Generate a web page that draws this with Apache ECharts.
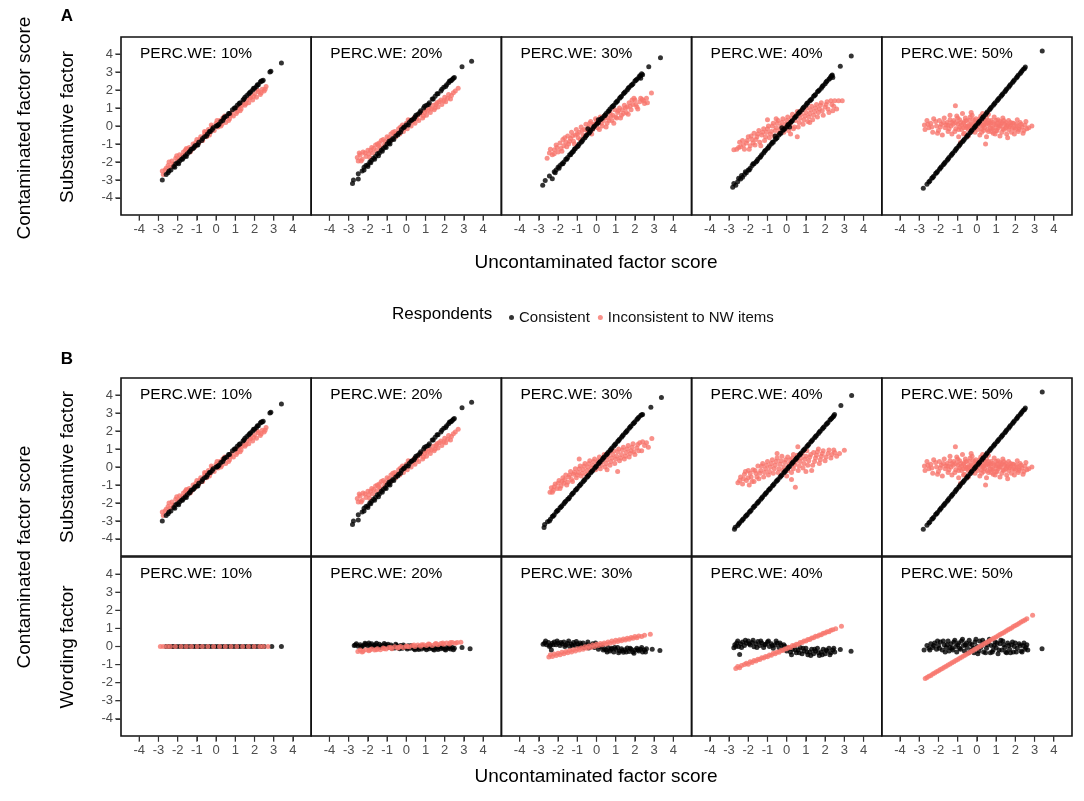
<!DOCTYPE html>
<html>
<head>
<meta charset="utf-8">
<title>Contaminated vs uncontaminated factor scores</title>
<script src="https://cdn.jsdelivr.net/npm/echarts@6/dist/echarts.min.js"></script>
<style>
  html, body { margin: 0; padding: 0; background: #fff; }
  #chart { width: 1084px; height: 801px; }
</style>
</head>
<body>
<div id="chart"></div>
<script>
// tick labels shared by every panel
const ticks = [-4, -3, -2, -1, 0, 1, 2, 3, 4]
const percLabels = ['PERC.WE: 10%', 'PERC.WE: 20%', 'PERC.WE: 30%', 'PERC.WE: 40%', 'PERC.WE: 50%']

// A / B top row: substantive factor
const a10Con = [[-2.8,-3.0],[-2.6,-2.7],[-2.5,-2.6],[-2.35,-2.45],[-2.2,-2.25],[-2.1,-2.1],[-2.0,-2.05],[-1.9,-1.95],[-1.8,-1.85],[-1.7,-1.75],[-1.6,-1.65],[-1.5,-1.55],[-1.4,-1.45],[-1.3,-1.3],[-1.2,-1.25],[-1.1,-1.1],[-1.0,-1.05],[-0.9,-0.9],[-0.75,-0.8],[-0.6,-0.6],[-0.45,-0.45],[-0.3,-0.3],[-0.15,-0.1],[0,0],[0.1,0.05],[0.25,0.25],[0.4,0.45],[0.55,0.55],[0.7,0.7],[0.85,0.9],[1.0,1.0],[1.1,1.15],[1.25,1.3],[1.4,1.45],[1.5,1.6],[1.6,1.7],[1.7,1.8],[1.8,1.9],[1.9,2.0],[2.0,2.1],[2.1,2.2],[2.2,2.3],[2.3,2.45],[2.4,2.5],[2.8,3.0],[2.85,3.05],[3.4,3.5],
  [-2.45,-2.5],[-2.15,-2.3],[-1.95,-2.1],[-1.75,-1.85],[-1.55,-1.7],[-1.35,-1.4],[-1.15,-1.2],[-0.95,-1.05],[-0.7,-0.7],[-0.5,-0.55],[-0.35,-0.3],[0.05,0.0],[0.35,0.3],[0.65,0.7],[0.95,1.0],[1.2,1.25],[1.45,1.5],[1.75,1.85],[1.95,2.1],[2.15,2.3],[2.35,2.5],[2.45,2.55],[-0.2,-0.2],[0.45,0.5],[0.15,0.1]]
const a10Inc = [[-2.8,-2.5],[-2.75,-2.7],[-2.6,-2.35],[-2.5,-2.2],[-2.4,-2.3],[-2.3,-1.95],[-2.2,-2.1],[-2.1,-1.8],[-2.0,-1.9],[-1.9,-1.6],[-1.85,-1.8],[-1.7,-1.45],[-1.6,-1.6],[-1.5,-1.3],[-1.4,-1.2],[-1.35,-1.45],[-1.2,-1.0],[-1.1,-1.15],[-1.0,-0.75],[-0.9,-0.95],[-0.8,-0.6],[-0.7,-0.8],[-0.6,-0.45],[-0.5,-0.6],[-0.4,-0.2],[-0.3,-0.35],[-0.2,-0.05],[-0.1,-0.25],[0,0.15],[0.1,-0.05],[0.2,0.3],[0.3,0.1],[0.4,0.4],[0.5,0.2],[0.6,0.55],[0.7,0.4],[0.8,0.75],[0.9,0.55],[1.0,0.95],[1.1,0.8],[1.2,1.1],[1.3,0.95],[1.4,1.3],[1.5,1.15],[1.6,1.45],[1.7,1.3],[1.8,1.6],[1.9,1.45],[2.0,1.8],[2.1,1.6],[2.2,1.9],[2.3,1.75],[2.4,2.05],[2.5,1.95],[2.6,2.2],
  [-2.65,-2.45],[-2.45,-2.0],[-2.25,-2.2],[-2.05,-1.65],[-1.75,-1.65],[-1.55,-1.25],[-1.25,-1.3],[-1.05,-0.9],[-0.85,-0.75],[-0.55,-0.35],[-0.35,-0.5],[-0.25,0.05],[0.05,0.3],[0.25,0.0],[0.45,0.55],[0.65,0.3],[0.75,0.6],[1.05,0.7],[1.15,1.05],[1.35,1.15],[1.55,1.25],[1.75,1.55],[1.95,1.65],[2.15,2.0],[2.35,1.85],[2.55,2.05],[-0.6,-0.3],[0.35,0.45],[1.25,0.85],[-1.6,-1.35]]

const a20Con = [[-2.8,-3.2],[-2.75,-3.0],[-2.5,-2.95],[-2.5,-2.65],[-2.3,-2.5],[-2.2,-2.3],[-2.1,-2.2],[-2.0,-2.15],[-1.9,-2.0],[-1.8,-1.9],[-1.7,-1.8],[-1.6,-1.7],[-1.5,-1.55],[-1.4,-1.5],[-1.3,-1.35],[-1.2,-1.25],[-1.1,-1.15],[-1.0,-1.0],[-0.9,-0.95],[-0.8,-0.8],[-0.7,-0.7],[-0.55,-0.55],[-0.4,-0.4],[-0.25,-0.2],[-0.1,-0.05],[0,0.05],[0.15,0.2],[0.3,0.35],[0.45,0.5],[0.6,0.65],[0.75,0.85],[0.9,1.0],[1.05,1.15],[1.2,1.3],[1.35,1.5],[1.5,1.65],[1.65,1.8],[1.8,1.95],[1.95,2.15],[2.1,2.3],[2.2,2.4],[2.3,2.5],[2.4,2.6],[2.5,2.7],[2.9,3.3],[3.4,3.6],
  [-2.2,-2.45],[-2.0,-2.25],[-1.85,-2.05],[-1.65,-1.85],[-1.45,-1.65],[-1.25,-1.4],[-1.05,-1.2],[-0.85,-1.0],[-0.65,-0.75],[-0.45,-0.5],[-0.3,-0.35],[-0.15,-0.1],[0.1,0.05],[0.25,0.3],[0.5,0.6],[0.7,0.75],[0.95,1.1],[1.15,1.2],[1.4,1.5],[1.6,1.8],[1.85,2.05],[2.05,2.2],[2.25,2.5],[2.35,2.55],[2.45,2.65],[-0.9,-0.85],[0.4,0.4]]
const a20Inc = [[-2.55,-1.75],[-2.5,-1.95],[-2.4,-1.6],[-2.3,-1.85],[-2.25,-1.45],[-2.1,-1.7],[-2.0,-1.35],[-1.95,-1.55],[-1.8,-1.2],[-1.75,-1.5],[-1.6,-1.05],[-1.55,-1.35],[-1.4,-0.95],[-1.35,-1.2],[-1.2,-0.75],[-1.15,-1.05],[-1.0,-0.6],[-0.95,-0.9],[-0.8,-0.45],[-0.75,-0.75],[-0.6,-0.3],[-0.55,-0.6],[-0.4,-0.15],[-0.35,-0.45],[-0.2,0.05],[-0.15,-0.3],[0,0.15],[0.05,-0.15],[0.2,0.3],[0.25,0.0],[0.4,0.45],[0.45,0.15],[0.6,0.6],[0.65,0.3],[0.8,0.75],[0.85,0.45],[1.0,0.9],[1.05,0.6],[1.2,1.0],[1.25,0.75],[1.4,1.15],[1.45,0.9],[1.6,1.3],[1.65,1.05],[1.8,1.45],[1.85,1.2],[2.0,1.6],[2.05,1.35],[2.2,1.75],[2.3,1.5],[2.45,1.85],[2.7,2.1],
  [-2.45,-1.5],[-2.35,-1.95],[-2.15,-1.5],[-1.9,-1.75],[-1.85,-1.35],[-1.7,-1.25],[-1.45,-1.1],[-1.3,-0.8],[-1.1,-0.85],[-0.9,-0.65],[-0.7,-0.35],[-0.5,-0.4],[-0.3,-0.05],[-0.1,-0.1],[0.1,0.35],[0.35,0.25],[0.55,0.4],[0.7,0.65],[0.9,0.55],[1.1,0.85],[1.3,0.95],[1.5,1.0],[1.7,1.35],[1.95,1.4],[2.15,1.55],[2.35,1.7],[2.55,1.95],[-0.6,-0.5],[0.95,0.75],[1.55,1.2],[-1.5,-1.0]]

const a30Con = [[-2.8,-3.3],[-2.67,-3.03],[-2.3,-2.94],[-2.45,-2.78],[-2.2,-2.55],[-2.1,-2.45],[-2.0,-2.3],[-1.9,-2.2],[-1.8,-2.1],[-1.7,-2.0],[-1.6,-1.85],[-1.5,-1.75],[-1.4,-1.6],[-1.3,-1.5],[-1.2,-1.4],[-1.1,-1.25],[-1.0,-1.15],[-0.9,-1.0],[-0.8,-0.9],[-0.7,-0.75],[-0.6,-0.65],[-0.5,-0.5],[-0.4,-0.4],[-0.3,-0.25],[-0.2,-0.15],[-0.1,0.0],[0,0.1],[0.1,0.2],[0.2,0.35],[0.3,0.45],[0.4,0.55],[0.5,0.7],[0.6,0.8],[0.7,0.95],[0.8,1.05],[0.9,1.15],[1.0,1.3],[1.1,1.4],[1.2,1.55],[1.3,1.65],[1.4,1.8],[1.5,1.9],[1.6,2.0],[1.7,2.15],[1.8,2.25],[1.9,2.35],[2.0,2.5],[2.1,2.6],[2.2,2.7],[2.3,2.8],[2.35,2.9],[2.3,2.65],[2.72,3.29],[3.33,3.8],
  [-2.15,-2.6],[-1.95,-2.35],[-1.75,-2.1],[-1.55,-1.85],[-1.35,-1.6],[-1.15,-1.3],[-0.95,-1.1],[-0.75,-0.85],[-0.55,-0.55],[-0.35,-0.35],[-0.15,-0.05],[0.05,0.15],[0.25,0.4],[0.45,0.6],[0.65,0.85],[0.85,1.1],[1.05,1.35],[1.25,1.6],[1.45,1.85],[1.65,2.1],[1.85,2.3],[2.05,2.55],[2.25,2.8],[2.4,2.85],[-0.45,-0.15],[0.1,0.35],[-1.25,-1.45]]
const a30Inc = [[-2.57,-1.79],[-2.45,-1.5],[-2.3,-1.6],[-2.19,-1.32],[-2.1,-1.05],[-2.0,-1.45],[-1.9,-0.95],[-1.85,-1.25],[-1.75,-0.75],[-1.7,-1.1],[-1.6,-0.9],[-1.5,-0.55],[-1.45,-1.0],[-1.35,-0.7],[-1.3,-0.35],[-1.2,-0.85],[-1.1,-0.5],[-1.05,-0.2],[-0.95,-0.65],[-0.9,-0.35],[-0.8,-0.05],[-0.7,-0.5],[-0.65,-0.2],[-0.55,0.1],[-0.45,-0.35],[-0.4,-0.05],[-0.3,0.25],[-0.2,-0.2],[-0.15,0.1],[-0.05,0.4],[0.05,-0.1],[0.1,0.2],[0.2,0.5],[0.3,0.0],[0.35,0.3],[0.45,0.6],[0.55,0.15],[0.6,0.45],[0.7,0.75],[0.8,0.3],[0.85,0.6],[0.95,0.9],[1.05,0.45],[1.1,0.75],[1.2,1.0],[1.3,0.6],[1.35,0.9],[1.45,1.15],[1.55,0.75],[1.6,1.05],[1.7,1.3],[1.8,0.9],[1.9,1.2],[2.0,1.45],[2.1,1.05],[2.25,1.35],[2.38,1.47],[2.5,1.25],[2.86,1.84],
  [-2.4,-1.3],[-2.2,-1.55],[-2.05,-1.2],[-1.8,-1.4],[-1.65,-0.65],[-1.55,-1.15],[-1.4,-0.85],[-1.25,-0.55],[-1.15,-1.0],[-1.0,-0.45],[-0.85,-0.75],[-0.75,-0.25],[-0.6,-0.6],[-0.5,-0.2],[-0.35,0.15],[-0.25,-0.45],[-0.1,0.05],[0.0,0.3],[0.15,-0.2],[0.25,0.15],[0.4,0.45],[0.5,-0.05],[0.65,0.3],[0.75,0.55],[0.9,0.15],[1.0,0.5],[1.15,0.85],[1.25,0.45],[1.4,0.7],[1.5,1.0],[1.65,0.65],[1.75,1.1],[1.85,1.45],[2.05,1.2],[2.15,0.95],[2.3,1.55],[2.45,1.4],[2.6,1.55],[2.65,1.3],[1.95,1.55]]

const a40Con = [[-2.81,-3.4],[-2.75,-3.2],[-2.55,-3.1],[-2.5,-2.9],[-2.4,-2.95],[-2.3,-2.85],[-2.2,-2.7],[-2.1,-2.6],[-2.0,-2.45],[-1.9,-2.35],[-1.8,-2.2],[-1.7,-2.1],[-1.6,-2.0],[-1.5,-1.85],[-1.4,-1.75],[-1.3,-1.6],[-1.2,-1.5],[-1.1,-1.35],[-1.0,-1.25],[-0.9,-1.1],[-0.8,-1.0],[-0.7,-0.9],[-0.6,-0.75],[-0.5,-0.65],[-0.4,-0.5],[-0.3,-0.4],[-0.2,-0.25],[-0.1,-0.15],[0,-0.05],[0.1,0.1],[0.2,0.2],[0.3,0.3],[0.4,0.45],[0.5,0.55],[0.6,0.7],[0.7,0.8],[0.8,0.9],[0.9,1.05],[1.0,1.15],[1.1,1.3],[1.2,1.4],[1.3,1.5],[1.4,1.65],[1.5,1.75],[1.6,1.9],[1.7,2.0],[1.8,2.1],[1.9,2.25],[2.0,2.35],[2.1,2.5],[2.2,2.6],[2.3,2.75],[2.37,2.83],[2.4,2.7],[2.79,3.33],[3.36,3.89],
  [-2.65,-3.3],[-2.35,-2.75],[-2.15,-2.55],[-1.95,-2.45],[-1.75,-2.1],[-1.55,-1.95],[-1.35,-1.7],[-1.15,-1.4],[-0.95,-1.2],[-0.75,-0.9],[-0.55,-0.7],[-0.35,-0.4],[-0.15,-0.2],[0.05,0.05],[0.25,0.25],[0.45,0.5],[0.65,0.75],[0.85,1.0],[1.05,1.25],[1.25,1.45],[1.45,1.7],[1.65,1.95],[1.85,2.2],[2.05,2.45],[2.25,2.65],[2.35,2.8],[-0.25,-0.1],[0.15,-0.05],[-0.6,-0.55]]
const a40Inc = [[-2.75,-1.32],[-2.6,-1.3],[-2.4,-1.15],[-2.3,-0.8],[-2.2,-1.3],[-2.1,-0.95],[-2.0,-0.6],[-1.9,-1.1],[-1.8,-0.75],[-1.7,-0.4],[-1.65,-1.05],[-1.55,-0.6],[-1.45,-0.25],[-1.4,-0.9],[-1.3,-0.5],[-1.2,-0.15],[-1.15,-0.8],[-1.05,-0.35],[-0.95,0.0],[-0.9,-0.65],[-0.8,-0.3],[-0.7,0.15],[-0.65,-0.55],[-0.55,-0.1],[-0.45,0.3],[-0.4,-0.4],[-0.3,0.0],[-0.2,0.4],[-0.15,-0.35],[-0.05,0.1],[0.05,0.5],[0.1,-0.25],[0.2,0.2],[0.3,0.65],[0.35,-0.15],[0.45,0.3],[0.55,0.8],[0.6,-0.05],[0.7,0.45],[0.8,0.9],[0.85,0.1],[0.95,0.55],[1.05,1.0],[1.1,0.25],[1.2,0.7],[1.3,1.1],[1.35,0.35],[1.45,0.8],[1.55,1.2],[1.6,0.5],[1.7,0.95],[1.8,1.3],[1.9,0.6],[2.0,1.05],[2.1,1.35],[2.2,0.75],[2.35,1.2],[2.5,1.4],[2.6,0.95],[2.89,1.41],[0.55,-0.6],[-1.0,0.35],
  [-2.5,-1.2],[-2.45,-0.9],[-2.25,-1.05],[-2.05,-0.8],[-1.95,-1.3],[-1.85,-0.55],[-1.75,-0.95],[-1.6,-0.75],[-1.5,-0.45],[-1.35,-1.1],[-1.25,-0.35],[-1.1,-0.6],[-1.0,-0.15],[-0.85,-0.45],[-0.75,0.0],[-0.6,-0.25],[-0.5,0.15],[-0.35,-0.2],[-0.25,0.2],[-0.1,-0.1],[0.0,0.3],[0.15,0.05],[0.25,0.45],[0.4,-0.05],[0.5,0.6],[0.65,0.2],[0.75,0.65],[0.9,0.35],[1.0,0.75],[1.15,0.5],[1.25,0.9],[1.4,0.6],[1.5,1.0],[1.65,0.75],[1.75,1.15],[1.85,0.85],[2.05,1.2],[2.15,0.95],[2.3,1.4],[2.45,1.1],[2.7,1.4],[2.4,0.85],[0.2,-0.45],[-0.55,0.4],[1.2,0.2]]

const a50Con = [[-2.79,-3.46],[-2.6,-3.24],[-2.45,-3.06],[-2.35,-2.9],[-2.25,-2.79],[-2.15,-2.64],[-2.05,-2.53],[-1.95,-2.4],[-1.85,-2.26],[-1.75,-2.15],[-1.65,-2.01],[-1.55,-1.9],[-1.45,-1.75],[-1.35,-1.64],[-1.25,-1.5],[-1.15,-1.39],[-1.05,-1.24],[-0.95,-1.13],[-0.85,-0.98],[-0.75,-0.88],[-0.65,-0.73],[-0.55,-0.62],[-0.45,-0.48],[-0.35,-0.37],[-0.25,-0.22],[-0.15,-0.11],[-0.05,0.03],[0.05,0.14],[0.15,0.28],[0.25,0.39],[0.35,0.53],[0.45,0.64],[0.55,0.79],[0.65,0.9],[0.75,1.04],[0.85,1.15],[0.95,1.3],[1.05,1.4],[1.15,1.55],[1.25,1.66],[1.35,1.8],[1.45,1.91],[1.55,2.06],[1.65,2.16],[1.75,2.31],[1.85,2.42],[1.95,2.56],[2.05,2.67],[2.15,2.82],[2.25,2.92],[2.35,3.07],[2.52,3.28],[3.4,4.17],
  [-2.5,-3.12],[-2.3,-2.86],[-2.1,-2.6],[-1.9,-2.33],[-1.7,-2.08],[-1.5,-1.83],[-1.3,-1.57],[-1.1,-1.31],[-0.9,-1.05],[-0.7,-0.8],[-0.5,-0.55],[-0.3,-0.29],[-0.1,-0.04],[0.1,0.21],[0.3,0.47],[0.5,0.72],[0.7,0.97],[0.9,1.22],[1.1,1.48],[1.3,1.73],[1.5,1.98],[1.7,2.24],[1.9,2.49],[2.1,2.74],[2.3,2.99],[2.42,3.15],[2.48,3.2]]
const a50Inc = [[-2.73,0.05],[-2.7,-0.2],[-2.6,0.3],[-2.5,-0.1],[-2.4,0.15],[-2.3,-0.35],[-2.25,0.4],[-2.1,0.0],[-2.0,-0.25],[-1.95,0.3],[-1.85,0.1],[-1.8,-0.5],[-1.7,0.45],[-1.65,-0.1],[-1.55,0.2],[-1.5,-0.3],[-1.4,0.6],[-1.35,0.0],[-1.3,-0.45],[-1.2,0.3],[-1.12,1.13],[-1.1,-0.15],[-1.05,0.55],[-1.0,0.1],[-0.95,-0.6],[-0.9,0.35],[-0.8,-0.2],[-0.75,0.7],[-0.7,0.15],[-0.65,-0.4],[-0.6,0.45],[-0.5,0.0],[-0.45,-0.55],[-0.4,0.3],[-0.3,-0.15],[-0.25,0.6],[-0.2,0.1],[-0.1,-0.35],[-0.05,0.4],[0.0,-0.05],[0.1,0.25],[0.15,-0.5],[0.2,0.55],[0.3,0.0],[0.35,-0.25],[0.4,0.35],[0.5,-0.6],[0.55,0.15],[0.6,0.65],[0.7,-0.1],[0.75,0.3],[0.85,-0.4],[0.9,0.5],[1.0,0.05],[1.05,-0.25],[1.1,0.35],[1.2,-0.55],[1.25,0.1],[1.35,0.45],[1.4,-0.2],[1.5,0.2],[1.55,-0.45],[1.65,0.3],[1.7,-0.05],[1.8,-0.35],[1.9,0.15],[2.0,-0.2],[2.1,0.35],[2.2,-0.1],[2.3,0.1],[2.4,-0.4],[2.5,0.05],[2.6,-0.15],[2.86,0.0],[0.45,-1.0],[-0.85,-0.9],
  [-2.55,0.1],[-2.35,-0.05],[-2.15,0.25],[-2.05,-0.4],[-1.9,-0.05],[-1.75,0.2],[-1.6,0.05],[-1.45,-0.15],[-1.4,0.35],[-1.25,0.1],[-1.15,-0.3],[-1.0,0.45],[-0.9,-0.05],[-0.85,0.2],[-0.7,-0.45],[-0.6,0.0],[-0.55,0.3],[-0.45,-0.2],[-0.35,0.5],[-0.3,0.1],[-0.15,-0.15],[-0.1,0.3],[0.05,0.05],[0.15,0.4],[0.25,-0.35],[0.3,0.2],[0.45,0.1],[0.5,0.45],[0.6,-0.3],[0.65,0.05],[0.8,0.2],[0.85,-0.1],[0.95,-0.45],[1.0,0.3],[1.15,0.0],[1.2,0.25],[1.3,-0.35],[1.45,0.1],[1.5,-0.1],[1.6,0.05],[1.75,0.2],[1.85,-0.1],[1.95,-0.45],[2.05,0.1],[2.15,-0.3],[2.25,0.2],[2.35,-0.05],[2.45,-0.25],[2.55,0.25],[2.7,-0.1],[-0.3,0.75],[0.3,0.7],[1.6,-0.65],
  [-1.1,0.2],[-0.95,-0.2],[-0.8,0.05],[-0.65,0.25],[-0.55,-0.1],[-0.4,0.05],[-0.25,-0.3],[-0.2,0.35],[-0.05,0.15],[0.05,-0.2],[0.2,0.1],[0.35,0.05],[0.4,-0.1],[0.55,-0.2],[0.6,0.3],[0.7,0.15],[0.8,-0.15],[0.9,0.1],[1.05,0.15],[1.1,-0.1],[1.2,0.0],[1.3,0.2],[1.4,0.3],[1.55,0.0],[1.65,-0.2],[1.75,0.05],[1.85,0.15],[1.95,-0.1],[2.1,0.0],[2.2,-0.2],[-1.3,0.2],[-1.5,0.05],[0.0,0.2],[0.25,-0.15],[0.75,-0.3],[1.0,-0.25],[1.35,-0.15],[-0.35,-0.05],[-0.7,-0.1],[0.5,0.25]]

// B top row, panels that differ from A
const b30Con = [[-2.73,-3.36],[-2.7,-3.2],[-2.55,-3.05],[-2.4,-2.9],[-2.3,-2.75],[-2.2,-2.65],[-2.1,-2.5],[-2.0,-2.4],[-1.9,-2.27],[-1.8,-2.15],[-1.7,-2.05],[-1.6,-1.9],[-1.5,-1.8],[-1.4,-1.68],[-1.3,-1.55],[-1.2,-1.43],[-1.1,-1.3],[-1.0,-1.18],[-0.9,-1.05],[-0.8,-0.93],[-0.7,-0.82],[-0.6,-0.7],[-0.5,-0.57],[-0.4,-0.45],[-0.3,-0.32],[-0.2,-0.2],[-0.1,-0.07],[0,0.05],[0.1,0.18],[0.2,0.3],[0.3,0.42],[0.4,0.55],[0.5,0.67],[0.6,0.8],[0.7,0.92],[0.8,1.05],[0.9,1.17],[1.0,1.29],[1.1,1.42],[1.2,1.54],[1.3,1.66],[1.4,1.79],[1.5,1.91],[1.6,2.03],[1.7,2.15],[1.8,2.28],[1.9,2.4],[2.0,2.52],[2.1,2.64],[2.2,2.77],[2.3,2.86],[2.4,2.92],[2.83,3.32],[3.38,3.87],
  [-2.45,-3.0],[-2.25,-2.72],[-2.05,-2.43],[-1.85,-2.22],[-1.65,-1.96],[-1.45,-1.76],[-1.25,-1.48],[-1.05,-1.25],[-0.85,-1.0],[-0.65,-0.75],[-0.45,-0.52],[-0.25,-0.25],[-0.05,0.0],[0.15,0.25],[0.35,0.5],[0.55,0.72],[0.75,0.98],[0.95,1.24],[1.15,1.47],[1.35,1.73],[1.55,1.96],[1.75,2.22],[1.95,2.45],[2.15,2.7],[2.35,2.9]]
const b30Inc = [[-2.42,-1.4],[-2.35,-1.15],[-2.25,-1.3],[-2.15,-0.95],[-2.05,-1.2],[-1.95,-0.75],[-1.85,-1.05],[-1.75,-0.6],[-1.7,-0.9],[-1.6,-0.45],[-1.5,-0.85],[-1.45,-0.55],[-1.35,-0.25],[-1.3,-0.7],[-1.2,-0.4],[-1.1,-0.1],[-1.05,-0.6],[-0.95,-0.3],[-0.85,0.05],[-0.8,-0.5],[-0.7,-0.15],[-0.6,0.2],[-0.55,-0.4],[-0.45,0.0],[-0.35,0.35],[-0.3,-0.25],[-0.2,0.1],[-0.1,0.45],[-0.05,-0.15],[0.05,0.2],[0.15,0.55],[0.2,-0.1],[0.3,0.3],[0.4,0.7],[0.45,0.0],[0.55,0.4],[0.65,0.8],[0.7,0.1],[0.8,0.5],[0.9,0.9],[0.95,0.2],[1.05,0.6],[1.15,1.0],[1.2,0.35],[1.3,0.7],[1.4,1.1],[1.45,0.45],[1.55,0.8],[1.65,1.2],[1.7,0.55],[1.8,0.9],[1.9,1.3],[2.0,0.7],[2.1,1.05],[2.25,1.35],[2.35,0.9],[2.5,1.2],[2.88,1.59],[1.1,-0.25],[-0.9,0.45],
  [-2.3,-1.4],[-2.2,-1.1],[-2.0,-0.9],[-1.9,-1.2],[-1.8,-0.8],[-1.65,-0.7],[-1.55,-1.0],[-1.4,-0.45],[-1.25,-0.8],[-1.15,-0.3],[-1.0,-0.45],[-0.9,-0.1],[-0.75,-0.35],[-0.65,0.05],[-0.5,-0.2],[-0.4,0.2],[-0.25,-0.05],[-0.15,0.3],[0.0,0.0],[0.1,0.35],[0.25,0.1],[0.35,0.5],[0.5,0.2],[0.6,0.6],[0.75,0.3],[0.85,0.7],[1.0,0.45],[1.1,0.85],[1.25,0.5],[1.35,0.95],[1.5,0.6],[1.6,1.0],[1.75,0.75],[1.85,1.1],[1.95,0.85],[2.15,1.25],[2.2,0.9],[2.4,1.4],[2.6,1.35],[2.7,1.1],[0.55,-0.15]]

const b40Con = [[-2.72,-3.46],[-2.68,-3.35],[-2.55,-3.25],[-2.45,-3.1],[-2.35,-3.0],[-2.25,-2.88],[-2.15,-2.75],[-2.05,-2.64],[-1.95,-2.52],[-1.85,-2.4],[-1.75,-2.27],[-1.65,-2.15],[-1.55,-2.03],[-1.45,-1.91],[-1.35,-1.79],[-1.25,-1.66],[-1.15,-1.54],[-1.05,-1.42],[-0.95,-1.3],[-0.85,-1.18],[-0.75,-1.05],[-0.65,-0.93],[-0.55,-0.81],[-0.45,-0.69],[-0.35,-0.57],[-0.25,-0.44],[-0.15,-0.32],[-0.05,-0.2],[0.05,-0.08],[0.15,0.04],[0.25,0.17],[0.35,0.29],[0.45,0.41],[0.55,0.53],[0.65,0.65],[0.75,0.78],[0.85,0.9],[0.95,1.02],[1.05,1.14],[1.15,1.26],[1.25,1.39],[1.35,1.51],[1.45,1.63],[1.55,1.75],[1.65,1.87],[1.75,2.0],[1.85,2.12],[1.95,2.24],[2.05,2.36],[2.15,2.48],[2.25,2.61],[2.35,2.73],[2.45,2.85],[2.49,2.92],[2.82,3.42],[3.38,3.98],
  [-2.5,-3.17],[-2.3,-2.93],[-2.1,-2.7],[-1.9,-2.46],[-1.7,-2.2],[-1.5,-1.97],[-1.3,-1.72],[-1.1,-1.48],[-0.9,-1.24],[-0.7,-1.0],[-0.5,-0.75],[-0.3,-0.5],[-0.1,-0.26],[0.1,-0.02],[0.3,0.23],[0.5,0.47],[0.7,0.71],[0.9,0.96],[1.1,1.2],[1.3,1.45],[1.5,1.69],[1.7,1.94],[1.9,2.18],[2.1,2.42],[2.3,2.67],[2.42,2.8]]
const b40Inc = [[-2.54,-0.88],[-2.4,-0.55],[-2.3,-0.95],[-2.2,-0.4],[-2.1,-0.75],[-2.0,-0.2],[-1.95,-1.0],[-1.85,-0.55],[-1.75,-0.15],[-1.7,-0.8],[-1.6,-0.35],[-1.5,0.05],[-1.45,-0.65],[-1.35,-0.2],[-1.25,0.2],[-1.2,-0.55],[-1.1,-0.1],[-1.0,0.3],[-0.95,-0.45],[-0.85,0.0],[-0.75,0.4],[-0.7,-0.35],[-0.6,0.1],[-0.5,0.5],[-0.45,-0.3],[-0.35,0.15],[-0.25,0.6],[-0.2,-0.2],[-0.1,0.25],[0.0,-0.5],[0.05,0.55],[0.1,0.05],[0.2,0.4],[0.25,-0.3],[0.35,0.7],[0.4,0.1],[0.45,-1.12],[0.5,0.45],[0.58,1.12],[0.6,-0.2],[0.7,0.3],[0.8,0.75],[0.85,-0.05],[0.95,0.45],[1.05,0.9],[1.1,0.1],[1.2,0.55],[1.3,-0.2],[1.4,0.8],[1.45,0.3],[1.55,0.65],[1.65,1.0],[1.7,0.2],[1.8,0.6],[1.9,0.9],[2.0,0.35],[2.15,0.75],[2.3,0.5],[2.45,0.95],[2.6,0.6],[3.0,0.93],
  [-2.45,-0.75],[-2.25,-0.65],[-2.15,-0.25],[-2.0,-0.6],[-1.9,-0.35],[-1.8,-0.8],[-1.65,-0.2],[-1.55,-0.55],[-1.4,-0.35],[-1.3,0.05],[-1.15,-0.3],[-1.05,0.1],[-0.9,-0.25],[-0.8,0.2],[-0.65,-0.1],[-0.55,0.3],[-0.4,-0.1],[-0.3,0.35],[-0.15,0.0],[-0.05,0.4],[0.05,-0.2],[0.15,0.2],[0.3,0.5],[0.35,-0.1],[0.45,0.25],[0.55,0.65],[0.65,0.05],[0.75,0.5],[0.9,0.2],[1.0,0.6],[1.15,0.35],[1.25,0.7],[1.35,0.1],[1.5,0.5],[1.6,0.85],[1.75,0.4],[1.85,0.75],[2.05,0.55],[2.2,0.95],[2.35,0.7],[2.5,0.8],[2.75,0.75],[0.25,-0.7],[-0.5,0.75],[1.0,-0.25]]

// B bottom row: wording factor
const w10Con = [[-2.6,0],[-2.45,0],[-2.3,0],[-2.2,0],[-2.05,0],[-1.9,0],[-1.75,0],[-1.6,0],[-1.5,0],[-1.35,0],[-1.2,0],[-1.05,0],[-0.9,0],[-0.8,0],[-0.65,0],[-0.5,0],[-0.35,0],[-0.2,0],[-0.05,0],[0.1,0],[0.25,0],[0.4,0],[0.55,0],[0.7,0],[0.85,0],[1.0,0],[1.15,0],[1.3,0],[1.45,0],[1.6,0],[1.75,0],[1.9,0],[2.05,0],[2.2,0],[2.35,0],[2.5,0],[2.9,0],[3.4,0]]
const w10Inc = [[-2.9,0],[-2.75,0],[-2.55,0],[-2.38,0],[-2.12,0],[-1.82,0],[-1.55,0],[-1.28,0],[-0.98,0],[-0.72,0],[-0.43,0],[-0.13,0],[0.18,0],[0.48,0],[0.78,0],[1.08,0],[1.38,0],[1.68,0],[1.98,0],[2.27,0],[2.45,0],[2.7,0]]

const w20Con = [[-2.71,0.05],[-2.65,0.08],[-2.5,0.02],[-2.4,0.1],[-2.3,0.0],[-2.2,0.08],[-2.1,0.12],[-2.0,0.03],[-1.9,0.1],[-1.8,0.15],[-1.7,0.05],[-1.6,0.1],[-1.5,0.0],[-1.4,0.12],[-1.3,0.06],[-1.2,-0.02],[-1.1,0.1],[-1.0,0.04],[-0.9,-0.05],[-0.8,0.08],[-0.7,0.0],[-0.6,-0.08],[-0.5,0.05],[-0.4,-0.03],[-0.3,0.06],[-0.2,-0.1],[-0.1,0.0],[0.0,-0.06],[0.1,0.04],[0.2,-0.1],[0.3,-0.02],[0.4,-0.12],[0.5,-0.04],[0.6,-0.1],[0.7,0.0],[0.8,-0.14],[0.9,-0.06],[1.0,-0.1],[1.1,-0.02],[1.2,-0.12],[1.3,-0.06],[1.4,-0.15],[1.5,-0.05],[1.6,-0.1],[1.7,-0.02],[1.8,-0.13],[1.9,-0.07],[2.0,-0.15],[2.1,-0.05],[2.2,-0.1],[2.3,-0.14],[2.4,-0.06],[2.5,-0.1],[2.9,-0.05],[3.32,-0.13],
  [-2.6,0.15],[-2.35,-0.02],[-2.15,0.18],[-1.95,0.2],[-1.75,0.0],[-1.55,0.18],[-1.35,-0.04],[-1.15,0.16],[-0.95,0.12],[-0.75,-0.1],[-0.55,0.12],[-0.35,-0.12],[-0.15,0.08],[0.05,-0.14],[0.25,0.06],[0.45,-0.18],[0.65,-0.16],[0.85,0.02],[1.05,-0.18],[1.25,0.0],[1.45,-0.2],[1.65,-0.17],[1.85,-0.02],[2.05,-0.2],[2.25,-0.02],[2.45,-0.18]]
const w20Inc = [[-2.52,-0.28],[-2.4,-0.2],[-2.25,-0.26],[-2.1,-0.18],[-1.95,-0.24],[-1.8,-0.14],[-1.65,-0.2],[-1.5,-0.12],[-1.35,-0.18],[-1.2,-0.08],[-1.05,-0.14],[-0.9,-0.05],[-0.75,-0.12],[-0.6,-0.02],[-0.45,-0.08],[-0.3,0.0],[-0.15,-0.05],[0.0,0.03],[0.15,-0.02],[0.3,0.06],[0.45,0.0],[0.6,0.08],[0.75,0.02],[0.9,0.1],[1.05,0.05],[1.2,0.12],[1.35,0.06],[1.5,0.14],[1.65,0.09],[1.8,0.17],[1.95,0.12],[2.1,0.2],[2.25,0.14],[2.4,0.22],[2.55,0.18],[2.84,0.24],
  [-2.3,-0.3],[-1.9,-0.2],[-1.55,-0.18],[-1.15,-0.12],[-0.8,-0.06],[-0.4,-0.04],[0.05,0.0],[0.4,0.08],[0.8,0.1],[1.15,0.14],[1.55,0.16],[1.9,0.2],[2.3,0.22],[2.65,0.22]]

const w30Con = [[-2.78,0.13],[-2.7,0.2],[-2.6,0.1],[-2.5,0.22],[-2.4,0.05],[-2.3,0.18],[-2.2,0.25],[-2.1,0.1],[-2.0,0.2],[-1.9,0.05],[-1.8,0.15],[-1.7,0.25],[-1.6,0.08],[-1.5,0.18],[-1.4,0.0],[-1.3,0.12],[-1.2,0.22],[-1.1,0.05],[-1.0,0.15],[-0.9,-0.02],[-0.8,0.1],[-0.7,0.2],[-0.6,0.0],[-0.5,0.1],[-0.4,-0.08],[-0.3,0.05],[-0.2,0.15],[-0.1,-0.05],[0.0,0.05],[0.1,-0.15],[0.2,-0.02],[0.3,0.08],[0.4,-0.12],[0.5,-0.2],[0.6,-0.05],[0.7,-0.25],[0.8,-0.1],[0.9,-0.3],[1.0,-0.15],[1.1,-0.05],[1.2,-0.25],[1.3,-0.12],[1.4,-0.32],[1.5,-0.18],[1.6,-0.08],[1.7,-0.28],[1.8,-0.15],[1.9,-0.3],[2.0,-0.2],[2.1,-0.1],[2.2,-0.25],[2.3,-0.15],[2.4,-0.3],[2.5,-0.2],[2.6,-0.12],[2.9,-0.15],[3.3,-0.22],[-2.35,-0.2],
  [-2.65,0.3],[-2.45,0.0],[-2.25,0.1],[-2.05,0.3],[-1.85,0.22],[-1.65,0.0],[-1.45,0.3],[-1.25,0.05],[-1.05,0.28],[-0.85,0.2],[-0.65,-0.05],[-0.45,0.25],[-0.25,0.0],[-0.05,0.2],[0.15,0.05],[0.35,-0.2],[0.55,-0.3],[0.75,-0.15],[0.95,-0.05],[1.15,-0.35],[1.35,-0.22],[1.55,-0.3],[1.75,-0.1],[1.95,-0.38],[2.15,-0.18],[2.35,-0.05],[2.55,-0.3]]
const w30Inc = [[-2.48,-0.58],[-2.4,-0.45],[-2.3,-0.55],[-2.2,-0.42],[-2.1,-0.5],[-2.0,-0.38],[-1.9,-0.45],[-1.8,-0.32],[-1.7,-0.4],[-1.6,-0.28],[-1.5,-0.35],[-1.4,-0.22],[-1.3,-0.3],[-1.2,-0.18],[-1.1,-0.25],[-1.0,-0.12],[-0.9,-0.2],[-0.8,-0.08],[-0.7,-0.15],[-0.6,-0.02],[-0.5,-0.1],[-0.4,0.03],[-0.3,-0.05],[-0.2,0.08],[-0.1,0.0],[0.0,0.12],[0.1,0.05],[0.2,0.16],[0.3,0.1],[0.4,0.2],[0.5,0.14],[0.6,0.25],[0.7,0.18],[0.8,0.3],[0.9,0.22],[1.0,0.35],[1.1,0.27],[1.2,0.38],[1.3,0.32],[1.4,0.42],[1.5,0.36],[1.6,0.46],[1.7,0.4],[1.8,0.5],[1.9,0.45],[2.0,0.55],[2.1,0.48],[2.2,0.58],[2.35,0.55],[2.5,0.62],[2.8,0.68]]

const w40Con = [[-2.75,-0.07],[-2.7,0.1],[-2.6,0.2],[-2.5,0.0],[-2.45,-0.44],[-2.4,0.15],[-2.3,0.25],[-2.2,0.05],[-2.1,0.2],[-2.0,0.3],[-1.9,0.08],[-1.8,0.22],[-1.7,-0.02],[-1.6,0.15],[-1.5,0.28],[-1.4,0.05],[-1.3,0.2],[-1.2,-0.05],[-1.1,0.12],[-1.0,0.25],[-0.9,0.0],[-0.8,0.15],[-0.7,-0.1],[-0.6,0.08],[-0.5,0.2],[-0.4,-0.05],[-0.3,0.1],[-0.2,-0.15],[-0.1,0.02],[0.0,-0.25],[0.1,-0.08],[0.2,-0.3],[0.3,-0.15],[0.4,0.0],[0.5,-0.35],[0.6,-0.2],[0.7,-0.05],[0.8,-0.4],[0.9,-0.25],[1.0,-0.1],[1.1,-0.45],[1.2,-0.3],[1.3,-0.15],[1.4,-0.4],[1.5,-0.25],[1.6,-0.1],[1.7,-0.5],[1.8,-0.3],[1.9,-0.15],[2.0,-0.4],[2.1,-0.25],[2.2,-0.1],[2.3,-0.35],[2.4,-0.2],[2.5,-0.3],[2.79,-0.17],[3.35,-0.26],
  [-2.65,0.0],[-2.55,0.3],[-2.35,-0.05],[-2.15,0.35],[-1.95,0.15],[-1.75,0.35],[-1.55,-0.05],[-1.35,0.3],[-1.15,0.1],[-0.95,0.3],[-0.75,0.05],[-0.55,0.3],[-0.35,0.2],[-0.15,0.1],[0.05,-0.1],[0.25,-0.45],[0.45,-0.2],[0.65,-0.35],[0.85,-0.1],[1.05,-0.3],[1.25,-0.5],[1.45,-0.15],[1.65,-0.35],[1.85,-0.45],[2.05,-0.2],[2.25,-0.45],[2.45,-0.1]]
const w40Inc = [[-2.65,-1.22],[-2.55,-1.1],[-2.45,-1.18],[-2.35,-1.05],[-2.2,-1.0],[-2.1,-0.92],[-2.0,-0.98],[-1.9,-0.85],[-1.8,-0.88],[-1.7,-0.78],[-1.6,-0.8],[-1.5,-0.7],[-1.4,-0.72],[-1.3,-0.62],[-1.2,-0.64],[-1.1,-0.55],[-1.0,-0.56],[-0.9,-0.47],[-0.8,-0.48],[-0.7,-0.38],[-0.6,-0.4],[-0.5,-0.3],[-0.4,-0.32],[-0.3,-0.22],[-0.2,-0.22],[-0.1,-0.14],[0.0,-0.12],[0.1,-0.04],[0.2,-0.05],[0.3,0.05],[0.4,0.04],[0.5,0.13],[0.6,0.13],[0.7,0.22],[0.8,0.22],[0.9,0.3],[1.0,0.3],[1.1,0.39],[1.2,0.39],[1.3,0.47],[1.4,0.48],[1.5,0.56],[1.6,0.56],[1.7,0.64],[1.8,0.65],[1.9,0.73],[2.0,0.74],[2.1,0.82],[2.2,0.82],[2.3,0.9],[2.4,0.92],[2.55,0.98],[2.85,1.12]]

const w50Con = [[-2.75,-0.2],[-2.6,0.05],[-2.5,-0.1],[-2.4,0.15],[-2.3,-0.05],[-2.2,0.2],[-2.1,-0.15],[-2.0,0.05],[-1.9,0.25],[-1.8,-0.2],[-1.7,0.1],[-1.6,-0.05],[-1.5,0.3],[-1.45,-0.25],[-1.35,0.15],[-1.3,-0.1],[-1.2,0.25],[-1.1,0.0],[-1.05,-0.3],[-0.95,0.2],[-0.9,-0.1],[-0.8,0.3],[-0.7,0.05],[-0.65,-0.25],[-0.55,0.2],[-0.5,-0.05],[-0.4,0.35],[-0.3,-0.2],[-0.25,0.1],[-0.15,-0.35],[-0.1,0.25],[0.0,0.0],[0.1,-0.25],[0.15,0.3],[0.25,0.05],[0.35,-0.3],[0.4,0.2],[0.5,-0.1],[0.6,0.25],[0.7,-0.35],[0.75,0.05],[0.85,-0.2],[0.95,0.25],[1.0,-0.05],[1.1,-0.4],[1.2,0.15],[1.3,-0.2],[1.35,0.3],[1.45,-0.05],[1.55,-0.35],[1.6,0.2],[1.7,-0.15],[1.8,0.1],[1.9,-0.3],[2.0,0.2],[2.1,-0.1],[2.2,0.15],[2.3,-0.25],[2.4,0.05],[2.5,-0.15],[2.6,0.1],[3.39,-0.13],
  [-2.45,-0.2],[-2.25,0.05],[-2.05,0.3],[-1.95,-0.1],[-1.75,0.3],[-1.65,-0.3],[-1.55,0.1],[-1.4,-0.05],[-1.25,-0.2],[-1.15,0.35],[-1.0,0.1],[-0.85,-0.15],[-0.75,0.4],[-0.6,0.1],[-0.45,-0.35],[-0.35,0.15],[-0.2,-0.1],[-0.05,0.4],[0.05,-0.4],[0.2,-0.05],[0.3,0.35],[0.45,-0.35],[0.55,0.1],[0.65,0.4],[0.8,-0.3],[0.9,0.05],[1.05,0.2],[1.15,-0.2],[1.25,0.35],[1.4,0.1],[1.5,-0.3],[1.65,0.05],[1.75,-0.35],[1.85,0.25],[1.95,0.0],[2.05,-0.3],[2.25,0.05],[2.35,-0.3],[2.45,0.2],[2.55,-0.05],[2.65,-0.2]]
const w50Inc = [[-2.69,-1.77],[-2.6,-1.72],[-2.5,-1.65],[-2.4,-1.6],[-2.3,-1.52],[-2.2,-1.47],[-2.1,-1.4],[-2.0,-1.34],[-1.9,-1.27],[-1.8,-1.22],[-1.7,-1.15],[-1.6,-1.09],[-1.5,-1.03],[-1.4,-0.97],[-1.3,-0.9],[-1.2,-0.84],[-1.1,-0.78],[-1.0,-0.72],[-0.9,-0.65],[-0.8,-0.59],[-0.7,-0.53],[-0.6,-0.47],[-0.5,-0.4],[-0.4,-0.34],[-0.3,-0.28],[-0.2,-0.22],[-0.1,-0.15],[0.0,-0.09],[0.1,-0.03],[0.2,0.03],[0.3,0.1],[0.4,0.16],[0.5,0.22],[0.6,0.28],[0.7,0.35],[0.8,0.41],[0.9,0.47],[1.0,0.53],[1.1,0.6],[1.2,0.66],[1.3,0.72],[1.4,0.78],[1.5,0.85],[1.6,0.91],[1.7,0.97],[1.8,1.03],[1.9,1.1],[2.0,1.16],[2.1,1.22],[2.2,1.28],[2.3,1.35],[2.4,1.41],[2.5,1.47],[2.6,1.53],[2.9,1.73]]

const FONT = "'Liberation Sans', Arial, Helvetica, sans-serif"
const CON_COLOR = '#000000'
const INC_COLOR = '#F8766D'
const AX_MIN = -4.95
const AX_MAX = 4.95

// panel rows (layout in px)
const rows = [
  { top: 37, h: 178, xLab: true, pinkTop: false,
    con: [a10Con, a20Con, a30Con, a40Con, a50Con], inc: [a10Inc, a20Inc, a30Inc, a40Inc, a50Inc] },
  { top: 378, h: 178, xLab: false, pinkTop: false,
    con: [a10Con, a20Con, b30Con, b40Con, a50Con], inc: [a10Inc, a20Inc, b30Inc, b40Inc, a50Inc] },
  { top: 557, h: 179, xLab: true, pinkTop: true,
    con: [w10Con, w20Con, w30Con, w40Con, w50Con], inc: [w10Inc, w20Inc, w30Inc, w40Inc, w50Inc] }
]
const panelLeft = 121
const panelW = 190.2

const grid = [], xAxis = [], yAxis = [], series = [], graphic = []

function txt(text, x, y, size, opts) {
  opts = opts || {}
  return {
    type: 'text', x: x, y: y, rotation: opts.rot || 0, silent: true,
    style: {
      text: text, fontSize: size, fontFamily: FONT, fontWeight: opts.bold ? 'bold' : 'normal',
      fill: opts.color || '#000', align: opts.align || 'center', verticalAlign: 'middle',
      textAlign: opts.align || 'center', textVerticalAlign: 'middle'
    }
  }
}

rows.forEach((row, r) => {
  for (let c = 0; c < 5; c++) {
    const gi = grid.length
    const left = panelLeft + c * panelW
    grid.push({
      left: left, top: row.top, width: panelW, height: row.h,
      show: true, borderColor: '#111', borderWidth: 1.6
    })
    // axis settings kept close to the minimal form that drew ticks in testing
    xAxis.push({
      type: 'value', gridIndex: gi, min: AX_MIN, max: AX_MAX,
      splitLine: { show: false },
      axisLine: { show: false, onZero: false },
      axisTick: { show: row.xLab, length: 5, customValues: ticks, lineStyle: { color: '#333' } },
      axisLabel: { show: row.xLab, customValues: ticks, color: '#4D4D4D', fontSize: 13 }
    })
    yAxis.push({
      type: 'value', gridIndex: gi, min: AX_MIN, max: AX_MAX,
      splitLine: { show: false },
      axisLine: { show: false, onZero: false },
      axisTick: { show: c === 0, length: 5, customValues: ticks, lineStyle: { color: '#333' } },
      axisLabel: { show: c === 0, customValues: ticks, color: '#4D4D4D', fontSize: 13 }
    })
    const sCon = {
      name: 'Consistent', type: 'scatter', xAxisIndex: gi, yAxisIndex: gi,
      data: row.con[c], symbolSize: 5, itemStyle: { color: CON_COLOR }
    }
    const sInc = {
      name: 'Inconsistent to NW items', type: 'scatter', xAxisIndex: gi, yAxisIndex: gi,
      data: row.inc[c], symbolSize: 5, itemStyle: { color: INC_COLOR }
    }
    if (row.pinkTop) series.push(sCon, sInc)
    else series.push(sInc, sCon)
    graphic.push(txt(percLabels[c], left + 19, row.top + 17, 15.5, { align: 'left' }))
  }
})

// axis titles, section letters
graphic.push(txt('A', 67, 16, 17, { bold: true }))
graphic.push(txt('B', 67, 359, 17, { bold: true }))
graphic.push(txt('Contaminated factor score', 25, 128, 19, { rot: Math.PI / 2 }))
graphic.push(txt('Substantive factor', 68, 127, 19, { rot: Math.PI / 2 }))
graphic.push(txt('Uncontaminated factor score', 596, 263, 19))
graphic.push(txt('Respondents', 392, 314, 17, { align: 'left' }))
graphic.push(txt('Contaminated factor score', 25, 557, 19, { rot: Math.PI / 2 }))
graphic.push(txt('Substantive factor', 68, 467, 19, { rot: Math.PI / 2 }))
graphic.push(txt('Wording factor', 68, 647, 19, { rot: Math.PI / 2 }))
graphic.push(txt('Uncontaminated factor score', 596, 777, 19))

// tick marks drawn as thin filled rects at each panel's edge (fallback for axis ticks)
const TICK_LEN = 5
function frac(v) { return (v - AX_MIN) / (AX_MAX - AX_MIN) }
rows.forEach((row, r) => {
  for (let c = 0; c < 5; c++) {
    const left = panelLeft + c * panelW
    const bottom = row.top + row.h
    if (row.xLab) {
      ticks.forEach(v => {
        const px = left + frac(v) * panelW
        graphic.push({ type: 'rect', z: 100, silent: true,
          shape: { x: px - 0.6, y: bottom + 0.8, width: 1.2, height: TICK_LEN },
          style: { fill: '#333' } })
      })
    }
    if (c === 0) {
      ticks.forEach(v => {
        const py = bottom - frac(v) * row.h
        graphic.push({ type: 'rect', z: 100, silent: true,
          shape: { x: left - TICK_LEN - 0.8, y: py - 0.6, width: TICK_LEN, height: 1.2 },
          style: { fill: '#333' } })
      })
    }
  }
})

const chart = echarts.init(document.getElementById('chart'))
chart.setOption({
  animation: false,
  legend: {
    data: ['Consistent', 'Inconsistent to NW items'],
    left: 504, top: 305, itemWidth: 5, itemHeight: 5, itemGap: 8, icon: 'circle',
    selectedMode: false,
    textStyle: { fontSize: 15, fontFamily: FONT, color: '#111' }
  },
  grid: grid,
  xAxis: xAxis,
  yAxis: yAxis,
  series: series,
  graphic: graphic
})
</script>
</body>
</html>
